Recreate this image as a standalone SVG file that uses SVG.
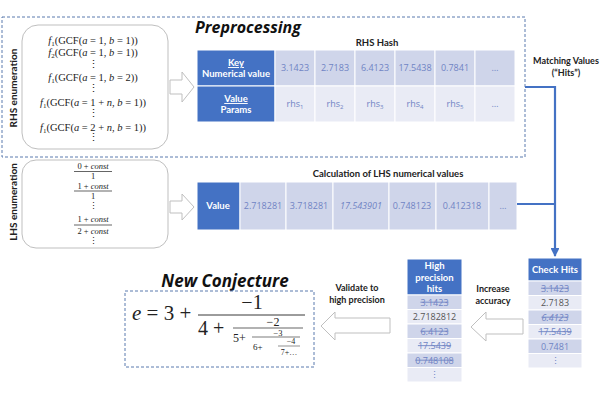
<svg xmlns="http://www.w3.org/2000/svg" width="600" height="400" viewBox="0 0 600 400">
<style>
.sans{font-family:Lato,"Open Sans","Liberation Sans",sans-serif}
.lbl{font-family:Lato,"Open Sans","Liberation Sans",sans-serif;font-weight:bold;fill:#222}
.title{font-family:"Open Sans",Lato,"Liberation Sans",sans-serif;font-weight:bold;font-style:italic;fill:#111}
.hdr{fill:#4472C4;stroke:#fff;stroke-width:1}
.hdrt{font-family:Lato,"Open Sans","Liberation Sans",sans-serif;font-weight:bold;fill:#fff;font-size:9.5px;text-anchor:middle}
.c1{fill:#CFD5EA;stroke:#fff;stroke-width:1}
.c2{fill:#E9EBF5;stroke:#fff;stroke-width:1}
.num{font-family:"Open Sans",Lato,"Liberation Sans",sans-serif;font-size:9px;fill:#6F84C4;text-anchor:middle}
.dark{fill:#555}
.strike{text-decoration:line-through}
.math{font-family:"Liberation Serif","DejaVu Serif",serif;fill:#222;text-anchor:middle}
.dash{fill:#fff;stroke:#5B7BAE;stroke-width:1;stroke-dasharray:3,2}
.round{fill:#fff;stroke:#BFBFBF;stroke-width:1}
.hollow{fill:#fff;stroke:#BFBFBF;stroke-width:1}
.conn{fill:none;stroke:#4472C4;stroke-width:2.2}
</style>
<defs>
<marker id="ah" viewBox="0 0 10 10" refX="9" refY="5" markerWidth="4" markerHeight="4" orient="auto">
<path d="M0,0 L10,5 L0,10 z" fill="#4472C4"/>
</marker>
</defs>
<rect width="600" height="400" fill="#fff"/>

<g id="preprocessing">
<rect class="dash" x="2" y="17" width="523" height="140"/>
<text class="title" x="195" y="33" font-size="16">Preprocessing</text>
</g>

<g id="rhs-enumeration">
<text class="lbl" font-size="10" text-anchor="middle" transform="translate(17,88) rotate(-90)">RHS enumeration</text>
<rect class="round" x="22" y="25" width="146" height="124" rx="16"/>
<g class="math" font-size="10.5">
<text x="93" y="44"><tspan font-style="italic">f</tspan><tspan font-size="7" dy="2">1</tspan><tspan dy="-2">(GCF(</tspan><tspan font-style="italic">a</tspan> = 1, <tspan font-style="italic">b</tspan> = 1))</text>
<text x="93" y="56"><tspan font-style="italic">f</tspan><tspan font-size="7" dy="2">2</tspan><tspan dy="-2">(GCF(</tspan><tspan font-style="italic">a</tspan> = 1, <tspan font-style="italic">b</tspan> = 1))</text>
<text x="93" y="68">⋮</text>
<text x="93" y="81"><tspan font-style="italic">f</tspan><tspan font-size="7" dy="2">1</tspan><tspan dy="-2">(GCF(</tspan><tspan font-style="italic">a</tspan> = 1, <tspan font-style="italic">b</tspan> = 2))</text>
<text x="93" y="92">⋮</text>
<text x="93" y="106"><tspan font-style="italic">f</tspan><tspan font-size="7" dy="2">1</tspan><tspan dy="-2">(GCF(</tspan><tspan font-style="italic">a</tspan> = 1 + <tspan font-style="italic">n</tspan>, <tspan font-style="italic">b</tspan> = 1))</text>
<text x="93" y="117">⋮</text>
<text x="93" y="131"><tspan font-style="italic">f</tspan><tspan font-size="7" dy="2">1</tspan><tspan dy="-2">(GCF(</tspan><tspan font-style="italic">a</tspan> = 2 + <tspan font-style="italic">n</tspan>, <tspan font-style="italic">b</tspan> = 1))</text>
<text x="93" y="141">⋮</text>
</g>
</g>

<g id="arrow-rhs">
<path class="hollow" d="M170,80 L182,80 L182,72 L194,87 L182,102 L182,94 L170,94 Z"/>
</g>

<g id="rhs-hash">
<text class="lbl" x="377" y="46" font-size="9.5" text-anchor="middle">RHS Hash</text>
<rect class="hdr" x="197" y="50" width="78" height="36"/>
<rect class="hdr" x="197" y="86" width="78" height="36"/>
<text class="hdrt" x="236" y="66" text-decoration="underline">Key</text>
<text class="hdrt" x="236" y="77">Numerical value</text>
<text class="hdrt" x="236" y="102" text-decoration="underline">Value</text>
<text class="hdrt" x="236" y="113">Params</text>
<rect class="c1" x="275" y="50" width="40" height="36"/><rect class="c1" x="315" y="50" width="40" height="36"/><rect class="c1" x="355" y="50" width="40" height="36"/><rect class="c1" x="395" y="50" width="40" height="36"/><rect class="c1" x="435" y="50" width="40" height="36"/><rect class="c1" x="475" y="50" width="40" height="36"/>
<rect class="c2" x="275" y="86" width="40" height="36"/><rect class="c2" x="315" y="86" width="40" height="36"/><rect class="c2" x="355" y="86" width="40" height="36"/><rect class="c2" x="395" y="86" width="40" height="36"/><rect class="c2" x="435" y="86" width="40" height="36"/><rect class="c2" x="475" y="86" width="40" height="36"/>
<text class="num" x="295" y="71">3.1423</text><text class="num" x="335" y="71">2.7183</text><text class="num" x="375" y="71">6.4123</text><text class="num" x="415" y="71">17.5438</text><text class="num" x="455" y="71">0.7841</text><text class="num" x="495" y="71">…</text>
<text class="num" x="295" y="107">rhs<tspan font-size="6" dy="2">1</tspan></text><text class="num" x="335" y="107">rhs<tspan font-size="6" dy="2">2</tspan></text><text class="num" x="375" y="107">rhs<tspan font-size="6" dy="2">3</tspan></text><text class="num" x="415" y="107">rhs<tspan font-size="6" dy="2">4</tspan></text><text class="num" x="455" y="107">rhs<tspan font-size="6" dy="2">5</tspan></text><text class="num" x="495" y="107">…</text>
</g>

<g id="matching-label">
<text class="lbl" x="566" y="64" font-size="9" text-anchor="middle">Matching Values</text>
<text class="lbl" x="566" y="76" font-size="9" text-anchor="middle">(“Hits”)</text>
</g>

<g id="lhs-enumeration">
<text class="lbl" font-size="10" text-anchor="middle" transform="translate(17,202) rotate(-90)">LHS enumeration</text>
<rect class="round" x="22" y="160" width="146" height="88" rx="14"/>
<g class="math" font-size="8.5">
<text x="93" y="169">0 + <tspan font-style="italic">const</tspan></text>
<line x1="74" y1="171.5" x2="112" y2="171.5" stroke="#222" stroke-width="0.7"/>
<text x="93" y="179">1</text>
<text x="93" y="188.5">1 + <tspan font-style="italic">const</tspan></text>
<line x1="74" y1="191" x2="112" y2="191" stroke="#222" stroke-width="0.7"/>
<text x="93" y="198.5">1</text>
<text x="93" y="209">⋮</text>
<text x="93" y="222">1 + <tspan font-style="italic">const</tspan></text>
<line x1="74" y1="225" x2="112" y2="225" stroke="#222" stroke-width="0.7"/>
<text x="93" y="233.5">2 + <tspan font-style="italic">const</tspan></text>
<text x="93" y="244">⋮</text>
</g>
</g>

<g id="arrow-lhs">
<path class="hollow" d="M170,201 L182,201 L182,194 L194,207 L182,220 L182,213 L170,213 Z"/>
</g>

<g id="lhs-values">
<text class="lbl" x="388" y="177" font-size="9.5" text-anchor="middle">Calculation of LHS numerical values</text>
<rect class="hdr" x="197" y="182" width="43" height="48"/>
<text class="hdrt" x="218" y="209">Value</text>
<rect class="c1" x="240" y="182" width="46" height="48"/><rect class="c1" x="286" y="182" width="47" height="48"/><rect class="c1" x="333" y="182" width="56" height="48"/><rect class="c1" x="389" y="182" width="47" height="48"/><rect class="c1" x="436" y="182" width="53" height="48"/><rect class="c1" x="489" y="182" width="28" height="48"/>
<text class="num" x="263" y="209">2.718281</text><text class="num" x="309" y="209">3.718281</text><text class="num" x="361" y="209" font-style="italic">17.543901</text><text class="num" x="412" y="209">0.748123</text><text class="num" x="462" y="209">0.412318</text><text class="num" x="503" y="209">…</text>
</g>

<g id="connectors">
<polyline class="conn" points="525,87 555,87 555,256" marker-end="url(#ah)"/>
<line class="conn" x1="517" y1="204" x2="555" y2="204"/>
</g>

<g id="check-hits">
<rect class="hdr" x="528" y="258" width="54" height="23"/>
<text class="hdrt" x="555" y="273">Check Hits</text>
<rect class="c1" x="528" y="281" width="54" height="14.5"/>
<rect class="c2" x="528" y="295.5" width="54" height="14.5"/>
<rect class="c1" x="528" y="310" width="54" height="14.5"/>
<rect class="c2" x="528" y="324.5" width="54" height="14.5"/>
<rect class="c1" x="528" y="339" width="54" height="14.5"/>
<rect class="c2" x="528" y="353.5" width="54" height="14.5"/>
<text class="num strike" x="555" y="291.5">3.1423</text>
<text class="num dark" x="555" y="306">2.7183</text>
<text class="num strike" x="555" y="320.5" font-style="italic">6.4123</text>
<text class="num strike" x="555" y="335">17.5439</text>
<text class="num" x="555" y="349.5">0.7481</text>
<text class="num" x="555" y="364">⋮</text>
</g>

<g id="arrow-increase">
<path class="hollow" d="M523,319 L486,319 L486,312 L471,327 L486,341 L486,334 L523,334 Z"/>
<text class="lbl" x="493" y="292" font-size="9" text-anchor="middle">Increase</text>
<text class="lbl" x="493" y="304" font-size="9" text-anchor="middle">accuracy</text>
</g>

<g id="high-precision">
<rect class="hdr" x="407" y="259" width="55" height="36"/>
<text class="hdrt" x="434.5" y="269">High</text>
<text class="hdrt" x="434.5" y="281">precision</text>
<text class="hdrt" x="434.5" y="292">hits</text>
<rect class="c1" x="407" y="295" width="55" height="14.5"/>
<rect class="c2" x="407" y="309.5" width="55" height="14.5"/>
<rect class="c1" x="407" y="324" width="55" height="14.5"/>
<rect class="c2" x="407" y="338.5" width="55" height="14.5"/>
<rect class="c1" x="407" y="353" width="55" height="14.5"/>
<rect class="c2" x="407" y="367.5" width="55" height="14.5"/>
<text class="num strike" x="434.5" y="305.5">3.1423</text>
<text class="num dark" x="434.5" y="320">2.7182812</text>
<text class="num strike" x="434.5" y="334.5">6.4123</text>
<text class="num strike" x="434.5" y="349">17.5439</text>
<text class="num strike" x="434.5" y="363.5">0.748108</text>
<text class="num" x="434.5" y="378">⋮</text>
</g>

<g id="arrow-validate">
<path class="hollow" d="M390,318 L335,318 L335,312 L321,326 L335,340 L335,333 L390,333 Z"/>
<text class="lbl" x="357" y="291" font-size="9" text-anchor="middle">Validate to</text>
<text class="lbl" x="357" y="303" font-size="9" text-anchor="middle">high precision</text>
</g>

<g id="new-conjecture">
<text class="title" x="225" y="287" font-size="17" text-anchor="middle">New Conjecture</text>
<rect class="dash" x="125" y="291" width="189" height="76"/>
<g class="math">
<text x="132" y="320" font-size="21" text-anchor="start"><tspan font-style="italic">e</tspan> = 3 +</text>
<text x="252" y="309" font-size="20">−1</text>
<line x1="198" y1="315" x2="305" y2="315" stroke="#222" stroke-width="0.9"/>
<text x="198" y="335" font-size="20" text-anchor="start">4 +</text>
<text x="273" y="325.5" font-size="12">−2</text>
<line x1="233" y1="328" x2="303" y2="328" stroke="#222" stroke-width="0.7"/>
<text x="233" y="342" font-size="12" text-anchor="start">5+</text>
<text x="278" y="335.5" font-size="8.5">−3</text>
<line x1="252" y1="337" x2="300" y2="337" stroke="#222" stroke-width="0.6"/>
<text x="253" y="349.5" font-size="9" text-anchor="start">6+</text>
<text x="291" y="344" font-size="8">−4</text>
<line x1="278" y1="346" x2="300" y2="346" stroke="#222" stroke-width="0.5"/>
<text x="289" y="355" font-size="8">7+…</text>
</g>
</g>
</svg>
